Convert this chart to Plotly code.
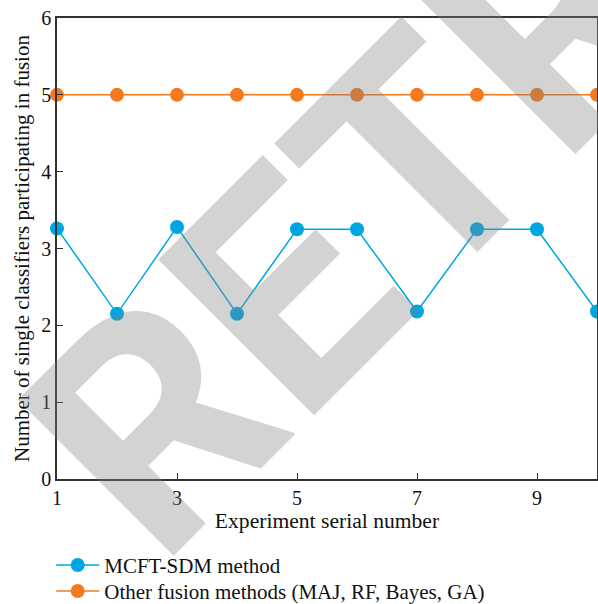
import plotly.graph_objects as go

experiments = [1, 2, 3, 4, 5, 6, 7, 8, 9, 10]
mcft_sdm = [3.26, 2.15, 3.28, 2.15, 3.25, 3.25, 2.18, 3.25, 3.25, 2.18]
other_methods = [5, 5, 5, 5, 5, 5, 5, 5, 5, 5]
x_ticks = [1, 3, 5, 7, 9]
y_ticks = [0, 1, 2, 3, 4, 5, 6]

BLUE = "#00A6E2"
ORANGE = "#F47A20"
SERIF = "Liberation Serif, Times New Roman, serif"

L, R, T, B = 57, 1, 18, 125
W, H = 598, 604
PW, PH = W - L - R, H - T - B

fig = go.Figure()
fig.add_trace(go.Scatter(
    x=experiments, y=mcft_sdm, mode="lines+markers", name="MCFT-SDM method",
    line=dict(color=BLUE, width=1.5), marker=dict(color=BLUE, size=14),
    cliponaxis=False, legend="legend",
))
fig.add_trace(go.Scatter(
    x=experiments, y=other_methods, mode="lines+markers",
    name="Other fusion methods (MAJ, RF, Bayes, GA)",
    line=dict(color=ORANGE, width=1.5), marker=dict(color=ORANGE, size=14),
    cliponaxis=False, legend="legend2",
))

# watermark: left/bottom of its rotated box, in figure pixels
wx, wy = -47, 626
fig.add_annotation(
    text="<b>RETRACTED</b>", xref="paper", yref="paper",
    x=(wx - L) / PW, y=(H - B - wy) / PH,
    xanchor="left", yanchor="bottom", textangle=-45, showarrow=False,
    font=dict(family="Roboto, Liberation Sans, sans-serif", size=310,
              color="rgba(128,128,128,0.35)"),
)

axis_common = dict(
    showline=True, linecolor="#333333", linewidth=1.5, mirror=True,
    ticks="inside", ticklen=6, tickwidth=1, tickcolor="#333333",
    showgrid=False, zeroline=False, automargin=False,
    tickfont=dict(family=SERIF, size=20, color="#111111"),
)

fig.update_xaxes(
    range=[1, 10], tickvals=x_ticks,
    title=dict(text="Experiment serial number", font=dict(family=SERIF, size=21.6, color="#111111"), standoff=4),
    **axis_common,
)
fig.update_yaxes(
    range=[0, 6], tickvals=y_ticks,
    title=dict(text="Number of single classifiers participating in fusion", font=dict(family=SERIF, size=21, color="#111111"), standoff=6),
    **axis_common,
)

legend_common = dict(
    x=-0.0107, xanchor="left", yanchor="top",
    font=dict(family=SERIF, size=21, color="#111111"),
    bgcolor="rgba(0,0,0,0)", itemwidth=43,
)

fig.update_layout(
    template="none",
    width=W, height=H,
    margin=dict(l=L, r=R, t=T, b=B, autoexpand=False),
    paper_bgcolor="white", plot_bgcolor="white",
    showlegend=True,
    legend=dict(y=-0.1427, **legend_common),
    legend2=dict(y=-0.1992, **legend_common),
)

fig.write_html(
    "out.html",
    config={"displayModeBar": False},
    post_script="document.body.style.margin='0';document.body.style.overflow='hidden';",
)
